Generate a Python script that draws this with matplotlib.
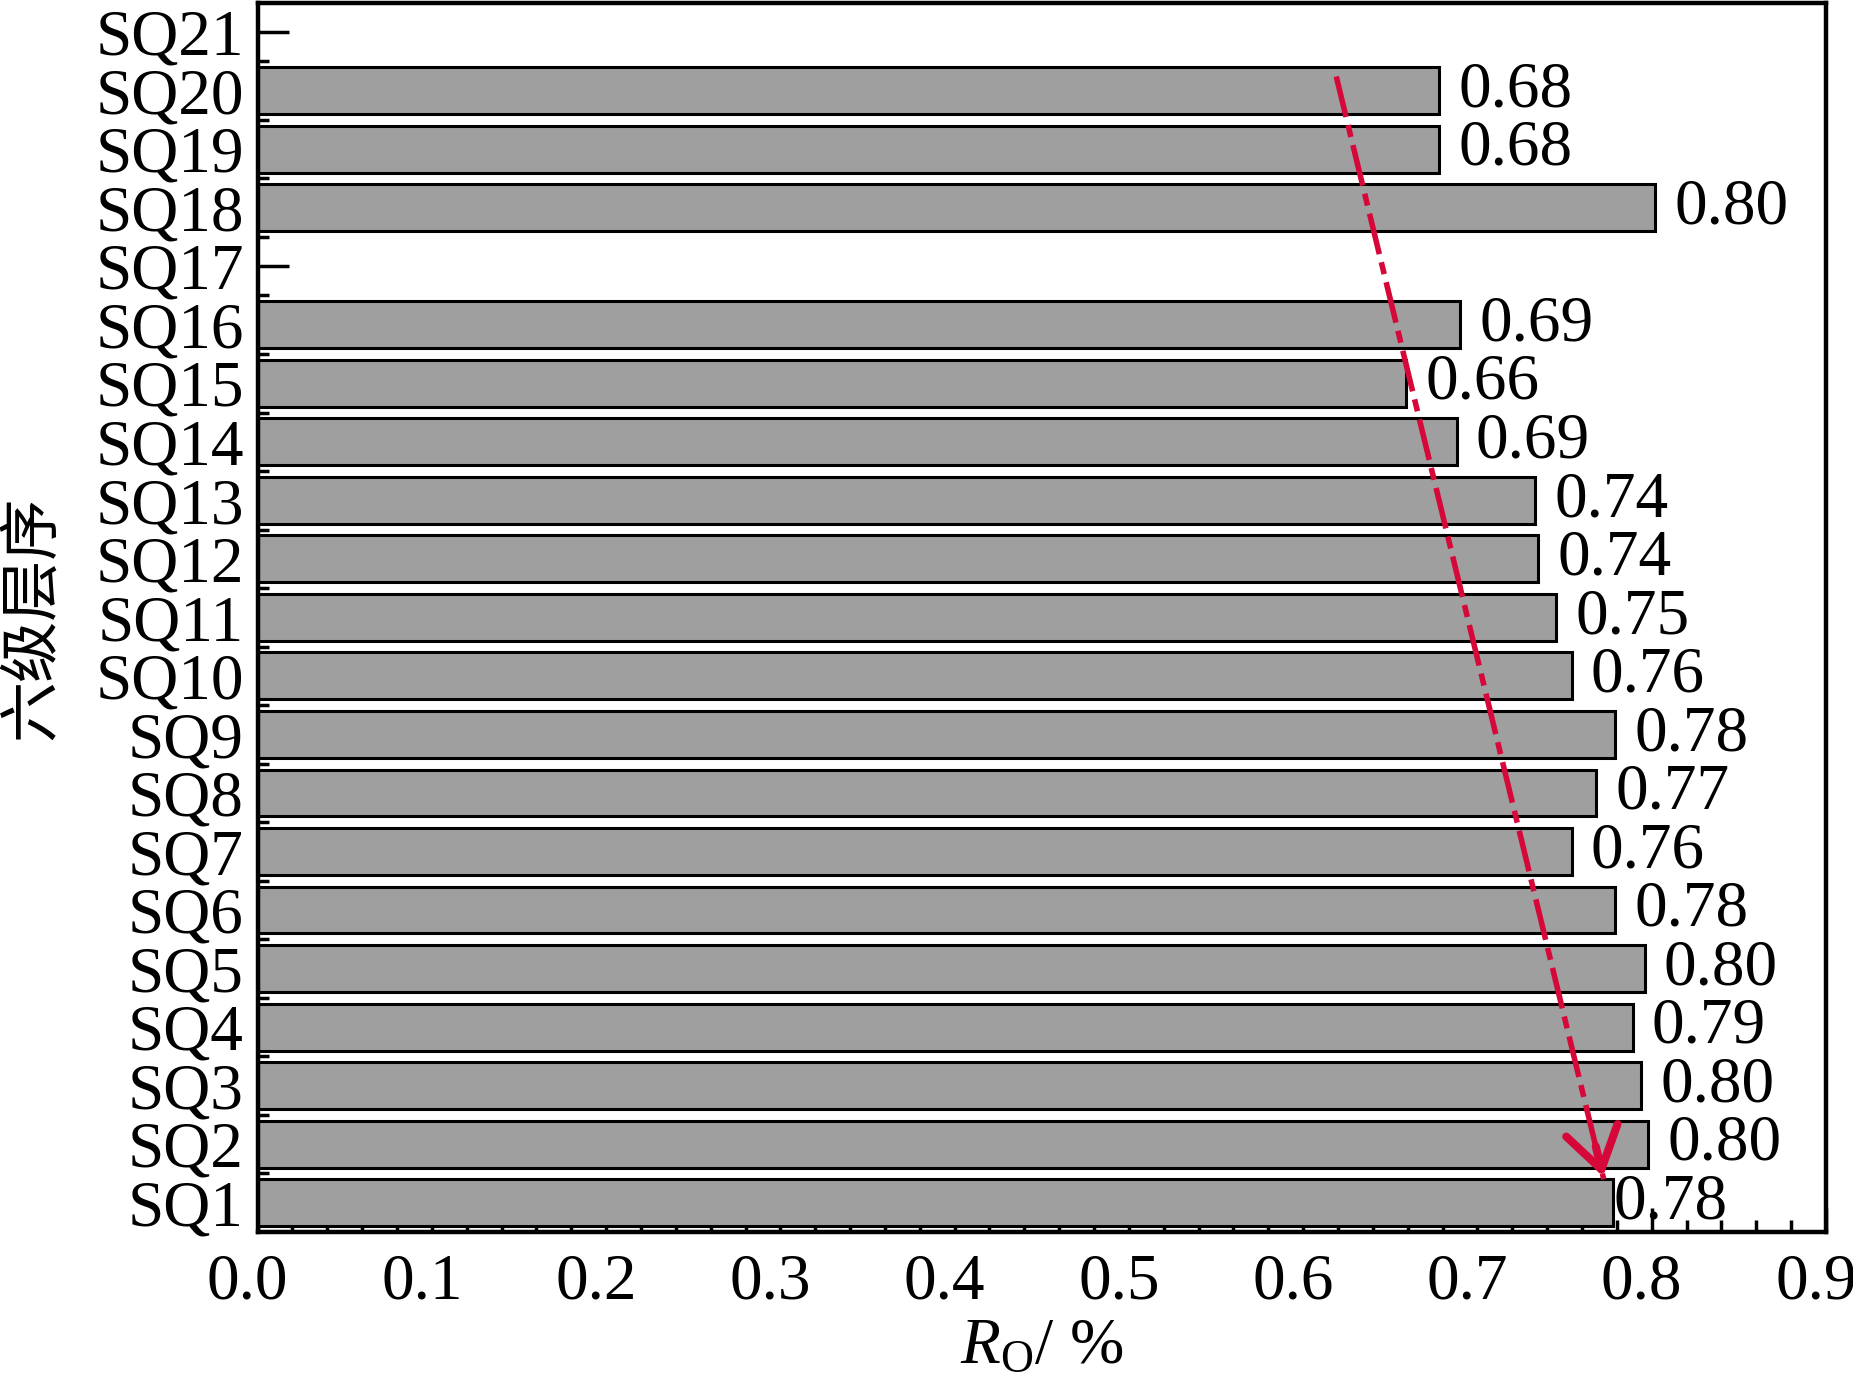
import matplotlib
matplotlib.use('Agg')
import matplotlib.pyplot as plt
import matplotlib.transforms as mtransforms
from matplotlib.ticker import MultipleLocator, FixedLocator

plt.rcParams['font.family'] = ['Liberation Serif', 'Noto Sans CJK SC']
plt.rcParams['mathtext.fontset'] = 'custom'
plt.rcParams['mathtext.rm'] = 'Liberation Serif'
plt.rcParams['mathtext.it'] = 'Liberation Serif:italic'

# data (SQ1 -> SQ21), None = no bar
sequences = ['SQ%d' % i for i in range(1, 22)]
ro_values = [0.778, 0.798, 0.794, 0.789, 0.796, 0.779, 0.754, 0.768, 0.779, 0.754,
             0.745, 0.735, 0.733, 0.688, 0.659, 0.690, None, 0.802, 0.678, 0.678, None]
ro_labels = ['0.78', '0.80', '0.80', '0.79', '0.80', '0.78', '0.76', '0.77', '0.78', '0.76',
             '0.75', '0.74', '0.74', '0.69', '0.66', '0.69', '', '0.80', '0.68', '0.68', '']

# trend arrow, from SQ20 down to SQ1
trend_x = [0.619, 0.7725]
trend_y = [19.24, 0.40]

fig = plt.figure(figsize=(18.53, 13.79), dpi=100)
ax = fig.add_axes([0.139, 0.1066, 0.8464, 0.8914])

pos = list(range(len(sequences)))
for p, v, lab in zip(pos, ro_values, ro_labels):
    if v is None:
        continue
    ax.barh(p, v, height=0.8, color='#a09fa0', edgecolor='black', linewidth=2.2, zorder=2)
    off = 0.0 if p == 0 else 0.011
    ax.text(v + off, p, lab, fontsize=47, va='center', ha='left', zorder=3)

# red dash-dot trend arrow
red = '#d6083a'
ax.plot(trend_x, trend_y, linestyle=(0, (7.5, 1.5, 2.2, 1.5)), color=red, lw=4.0, zorder=4)
dx = trend_x[1] - trend_x[0]
dy = trend_y[1] - trend_y[0]
ax.annotate('', xy=(trend_x[1], trend_y[1]),
            xytext=(trend_x[1] - dx * 0.03, trend_y[1] - dy * 0.03),
            arrowprops=dict(arrowstyle='->,head_length=1.45,head_width=0.95',
                            mutation_scale=20, color=red, lw=5.8,
                            shrinkA=0, shrinkB=2), zorder=5)

ax.set_xlim(0, 0.9)
ax.set_ylim(-0.5, 20.5)
ax.xaxis.set_major_locator(MultipleLocator(0.1))
ax.xaxis.set_minor_locator(MultipleLocator(0.02))
ax.set_xticklabels(['%.1f' % t for t in ax.get_xticks()])
ax.set_yticks(pos)
ax.set_yticklabels(sequences)
ax.yaxis.set_minor_locator(FixedLocator([p + 0.5 for p in pos[:-1]]))

ax.tick_params(axis='x', which='major', direction='in', length=17, width=2.5,
               labelsize=47, pad=15, top=False)
ax.tick_params(axis='x', which='minor', direction='in', length=9, width=2.5, top=False)
ax.tick_params(axis='y', which='major', direction='in', length=22, width=2.5,
               labelsize=47, pad=10, right=False)
ax.tick_params(axis='y', which='minor', direction='in', length=8, width=2.5, right=False)

# x tick labels sit a little left of their ticks in the original
shift = mtransforms.ScaledTranslation(-10 / 100, 0, fig.dpi_scale_trans)
for lbl in ax.get_xticklabels():
    lbl.set_transform(lbl.get_transform() + shift)

for s in ax.spines.values():
    s.set_linewidth(3.2)
    s.set_zorder(6)

ax.set_xlabel(r'$R_{\mathrm{O}}$/ %', fontsize=47, labelpad=4)
ax.set_ylabel('六级层序', fontsize=44, labelpad=24)

fig.savefig('out.png', dpi=100)
